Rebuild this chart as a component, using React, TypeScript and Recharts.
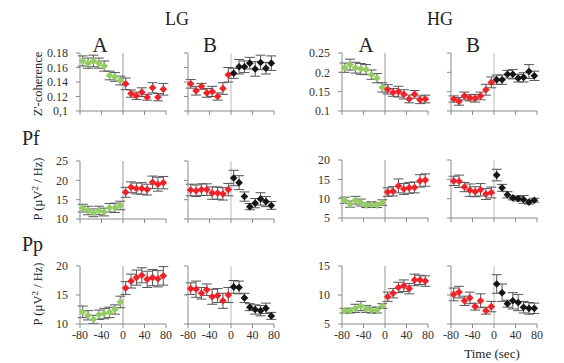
import React from 'react';
import { ScatterChart, Scatter, XAxis, YAxis, ErrorBar, ReferenceLine } from 'recharts';

// time bins (sec), first 8 before the event, last 8 after
const times = [-75, -65, -55, -45, -35, -25, -15, -5, 5, 15, 25, 35, 45, 55, 65, 75];
const timeTicks = [-80, -40, 0, 40, 80];

// Z'-coherence
const cohLgA = [0.169, 0.166, 0.169, 0.166, 0.162, 0.149, 0.147, 0.142, 0.1375, 0.124, 0.121, 0.126, 0.119, 0.132, 0.119, 0.13];
const cohLgAErr = [0.007, 0.007, 0.008, 0.007, 0.007, 0.006, 0.006, 0.006, 0.008, 0.005, 0.005, 0.006, 0.004, 0.007, 0.005, 0.008];
const cohLgB = [0.1375, 0.128, 0.134, 0.125, 0.127, 0.12, 0.131, 0.15, 0.152, 0.161, 0.161, 0.166, 0.158, 0.167, 0.159, 0.166];
const cohLgBErr = [0.006, 0.006, 0.004, 0.006, 0.007, 0.005, 0.008, 0.01, 0.007, 0.01, 0.008, 0.008, 0.01, 0.01, 0.008, 0.01];
const cohHgA = [0.212, 0.22, 0.212, 0.209, 0.207, 0.194, 0.185, 0.161, 0.156, 0.148, 0.15, 0.143, 0.131, 0.143, 0.129, 0.131];
const cohHgAErr = [0.012, 0.014, 0.014, 0.014, 0.013, 0.012, 0.012, 0.012, 0.012, 0.01, 0.014, 0.012, 0.01, 0.01, 0.01, 0.01];
const cohHgB = [0.131, 0.125, 0.139, 0.134, 0.133, 0.139, 0.155, 0.174, 0.181, 0.181, 0.195, 0.195, 0.185, 0.187, 0.202, 0.191];
const cohHgBErr = [0.008, 0.01, 0.01, 0.008, 0.01, 0.01, 0.014, 0.014, 0.012, 0.012, 0.01, 0.012, 0.01, 0.012, 0.018, 0.012];

// Pf power
const pfLgA = [12.8, 12.2, 11.6, 12.2, 11.8, 12.9, 12.9, 13.5, 16.9, 18.2, 17.9, 17.9, 17.6, 19.5, 19.0, 19.4];
const pfLgAErr = [1.0, 1.1, 1.0, 1.1, 1.0, 1.1, 1.2, 1.1, 1.3, 1.4, 1.4, 1.5, 1.4, 1.6, 1.8, 1.6];
const pfLgB = [17.5, 17.3, 17.6, 17.6, 16.7, 16.7, 16.5, 17.6, 20.6, 19.4, 15.8, 13.2, 14.1, 15.2, 14.5, 13.5];
const pfLgBErr = [1.5, 1.5, 1.5, 1.5, 1.6, 1.6, 1.6, 1.6, 2.0, 1.8, 1.2, 0.8, 1.2, 1.6, 1.3, 1.0];
const pfHgA = [9.6, 8.6, 9.6, 9.0, 8.3, 8.5, 8.3, 9.0, 11.7, 11.9, 13.3, 12.5, 12.8, 12.9, 14.6, 14.8];
const pfHgAErr = [0.8, 0.8, 1.0, 0.9, 0.6, 0.7, 0.6, 0.7, 1.1, 1.2, 1.8, 1.4, 1.4, 1.4, 1.6, 1.6];
const pfHgB = [14.6, 14.5, 13.0, 12.2, 11.8, 12.3, 11.2, 11.6, 16.1, 12.8, 11.0, 10.2, 10.0, 9.8, 9.1, 9.6];
const pfHgBErr = [1.2, 1.6, 1.2, 1.6, 1.3, 1.6, 1.4, 1.4, 1.5, 0.9, 0.8, 0.5, 0.6, 1.0, 0.5, 0.5];

// Pp power
const ppLgA = [12.1, 11.5, 10.8, 11.6, 11.8, 12.0, 12.5, 13.8, 16.2, 17.4, 18.0, 18.4, 17.7, 18.0, 17.8, 18.3];
const ppLgAErr = [1.0, 0.8, 0.7, 0.8, 0.9, 0.9, 0.8, 1.0, 1.1, 1.2, 1.3, 1.3, 1.4, 1.4, 1.4, 1.6];
const ppLgB = [16.1, 16.0, 15.3, 15.9, 14.7, 14.9, 14.0, 15.0, 16.4, 16.3, 14.5, 12.9, 12.5, 12.3, 12.7, 11.4];
const ppLgBErr = [1.0, 1.4, 1.0, 1.0, 1.3, 1.2, 1.3, 1.3, 1.1, 1.1, 0.8, 0.6, 0.8, 0.9, 0.9, 0.6];
const ppHgA = [7.3, 7.3, 7.7, 8.1, 7.6, 7.4, 7.4, 8.1, 9.7, 10.3, 11.3, 11.6, 11.1, 12.6, 12.6, 12.4];
const ppHgAErr = [0.4, 0.4, 0.7, 0.8, 0.6, 0.5, 0.5, 0.4, 0.8, 0.8, 0.9, 1.0, 0.9, 1.0, 0.8, 0.9];
const ppHgB = [10.1, 10.5, 9.0, 9.5, 8.0, 9.0, 7.3, 8.0, 11.9, 10.4, 8.5, 9.0, 8.7, 7.9, 7.7, 7.7];
const ppHgBErr = [1.1, 1.0, 0.8, 1.0, 0.6, 1.2, 0.6, 0.9, 1.6, 1.5, 0.6, 1.4, 1.4, 1.0, 1.0, 0.9];

const GREEN = '#93cc62';
const RED = '#ee2229';
const BLACK = '#151515';
const AXIS = '#8a8a8a';
const SERIF = 'Liberation Serif';

const diamond = (color: string) => (props: any) => {
  const { cx, cy } = props;
  const r = 3.8;
  return <path d={`M${cx},${cy - r}L${cx + r},${cy}L${cx},${cy + r}L${cx - r},${cy}Z`} fill={color} />;
};

interface PanelProps {
  values: number[];
  errs: number[];
  kind: 'A' | 'B';
  domain: [number, number];
  ticks: number[];
  left: number;
  top: number;
  yLabels?: boolean;
  xLabels?: boolean;
  yFormat?: (v: number) => string;
}

const Panel = ({ values, errs, kind, domain, ticks, left, top, yLabels, xLabels, yFormat }: PanelProps) => {
  const rows = times.map((t, i) => ({ t, v: values[i], e: errs[i] }));
  const pre = rows.slice(0, 8);
  const post = rows.slice(8);
  const preColor = kind === 'A' ? GREEN : RED;
  const postColor = kind === 'A' ? RED : BLACK;
  const tickStyle = { fill: '#333', fontSize: 12, fontFamily: SERIF };

  // plot area is 86 x 58, starting 40px right / 12px below the box corner
  return (
    <div style={{ position: 'absolute', left, top: top - 7 }}>
      <ScatterChart width={144} height={97} margin={{ top: 12, right: 18, bottom: 2, left: 0 }} style={{ fontFamily: SERIF }}>
        <XAxis
          dataKey="t"
          type="number"
          domain={[-80, 80]}
          ticks={timeTicks}
          height={25}
          stroke={AXIS}
          tickSize={4}
          tick={tickStyle}
          tickFormatter={(v: number) => (xLabels ? String(v) : '')}
          interval={0}
        />
        <YAxis
          dataKey="v"
          type="number"
          domain={domain}
          ticks={ticks}
          width={40}
          stroke={AXIS}
          tickSize={4}
          tickMargin={8}
          tick={tickStyle}
          tickFormatter={(v: number) => (yLabels ? (yFormat ? yFormat(v) : String(v)) : '')}
          interval={0}
        />
        <ReferenceLine x={0} stroke={kind === 'A' ? '#999' : '#bbb'} strokeWidth={1} />
        <Scatter data={pre} shape={diamond(preColor)} isAnimationActive={false}>
          <ErrorBar dataKey="e" direction="y" width={5} stroke="#555" strokeWidth={1} />
        </Scatter>
        <Scatter data={post} shape={diamond(postColor)} isAnimationActive={false}>
          <ErrorBar dataKey="e" direction="y" width={5} stroke="#555" strokeWidth={1} />
        </Scatter>
      </ScatterChart>
    </div>
  );
};

const lgCohFormat = (v: number) => (v === 0.1 ? '0,1' : v.toFixed(2));

export default function App() {
  const colL = [40, 148, 302, 411];
  const rowT = [48, 156, 261];
  return (
    <div style={{ position: 'absolute', left: 0, top: 0, width: 564, height: 363, background: '#fff', fontFamily: SERIF }}>
      <Panel values={cohLgA} errs={cohLgAErr} kind="A" domain={[0.1, 0.18]} ticks={[0.1, 0.12, 0.14, 0.16, 0.18]} left={colL[0]} top={rowT[0]} yLabels yFormat={lgCohFormat} />
      <Panel values={cohLgB} errs={cohLgBErr} kind="B" domain={[0.1, 0.18]} ticks={[0.1, 0.12, 0.14, 0.16, 0.18]} left={colL[1]} top={rowT[0]} />
      <Panel values={cohHgA} errs={cohHgAErr} kind="A" domain={[0.1, 0.25]} ticks={[0.1, 0.15, 0.2, 0.25]} left={colL[2]} top={rowT[0]} yLabels />
      <Panel values={cohHgB} errs={cohHgBErr} kind="B" domain={[0.1, 0.25]} ticks={[0.1, 0.15, 0.2, 0.25]} left={colL[3]} top={rowT[0]} />

      <Panel values={pfLgA} errs={pfLgAErr} kind="A" domain={[10, 25]} ticks={[10, 15, 20, 25]} left={colL[0]} top={rowT[1]} yLabels />
      <Panel values={pfLgB} errs={pfLgBErr} kind="B" domain={[10, 25]} ticks={[10, 15, 20, 25]} left={colL[1]} top={rowT[1]} />
      <Panel values={pfHgA} errs={pfHgAErr} kind="A" domain={[5, 20]} ticks={[5, 10, 15, 20]} left={colL[2]} top={rowT[1] - 1} yLabels />
      <Panel values={pfHgB} errs={pfHgBErr} kind="B" domain={[5, 20]} ticks={[5, 10, 15, 20]} left={colL[3]} top={rowT[1] - 1} />

      <Panel values={ppLgA} errs={ppLgAErr} kind="A" domain={[10, 20]} ticks={[10, 15, 20]} left={colL[0]} top={rowT[2]} yLabels xLabels />
      <Panel values={ppLgB} errs={ppLgBErr} kind="B" domain={[10, 20]} ticks={[10, 15, 20]} left={colL[1]} top={rowT[2]} xLabels />
      <Panel values={ppHgA} errs={ppHgAErr} kind="A" domain={[5, 15]} ticks={[5, 10, 15]} left={colL[2]} top={rowT[2]} yLabels xLabels />
      <Panel values={ppHgB} errs={ppHgBErr} kind="B" domain={[5, 15]} ticks={[5, 10, 15]} left={colL[3]} top={rowT[2]} xLabels />

      <svg width={564} height={363} style={{ position: 'absolute', left: 0, top: 0, pointerEvents: 'none' }} fontFamily={SERIF} fill="#222">
        <text x={177} y={25} fontSize={18} textAnchor="middle">LG</text>
        <text x={440} y={25} fontSize={18} textAnchor="middle">HG</text>
        <text x={100} y={52} fontSize={21} textAnchor="middle">A</text>
        <text x={210} y={52} fontSize={21} textAnchor="middle">B</text>
        <text x={366} y={52} fontSize={21} textAnchor="middle">A</text>
        <text x={473} y={52} fontSize={21} textAnchor="middle">B</text>
        <text x={22} y={145} fontSize={20}>Pf</text>
        <text x={22} y={251} fontSize={20}>Pp</text>
        <text x={0} y={0} fontSize={12.5} textAnchor="middle" transform="translate(42,84) rotate(-90)">Z'-coherence</text>
        <text x={0} y={0} fontSize={12.5} textAnchor="middle" transform="translate(42,189) rotate(-90)">
          P (µV<tspan dy={-4} fontSize={9}>2</tspan><tspan dy={4}> / Hz)</tspan>
        </text>
        <text x={0} y={0} fontSize={12.5} textAnchor="middle" transform="translate(42,294) rotate(-90)">
          P (µV<tspan dy={-4} fontSize={9}>2</tspan><tspan dy={4}> / Hz)</tspan>
        </text>
        <text x={492} y={358} fontSize={13} textAnchor="middle">Time (sec)</text>
      </svg>
    </div>
  );
}
